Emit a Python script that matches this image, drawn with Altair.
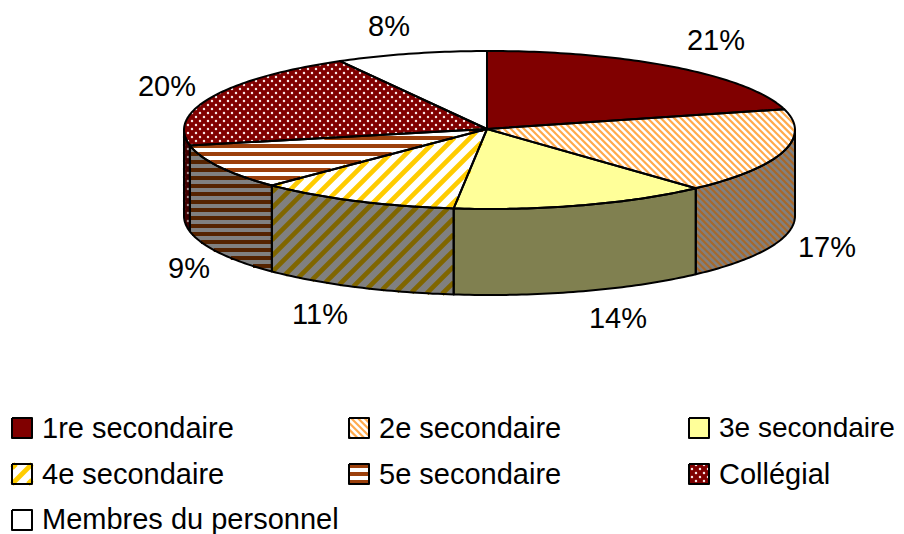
import math
import altair as alt
import pandas as pd

# ---- values
categories = ["1re secondaire", "2e secondaire", "3e secondaire", "4e secondaire",
              "5e secondaire", "Collégial", "Membres du personnel"]
shares = [21, 17, 14, 11, 9, 20, 8]
# small perspective correction of each slice's closing edge, in degrees
edge_nudge = [-0.4, 1.2, 0.0, -0.9, 0.0, 0.0, 0.0]

# ---- styling per category
top_base = ["#800000", "#FFFFFF", "#FFFF99", "#FFFFFF", "#FFFFFF", "#800000", "#FFFFFF"]
top_fg = [None, "#FFAA4D", None, "#FFCC00", "#9C400C", "#F7E4E4", None]
wall_base = ["#400000", "#808080", "#808050", "#808080", "#808080", "#400000", "#808080"]
wall_fg = [None, "#A8682A", None, "#806600", "#552300", "#A89090", None]
patterns = [None, "back", None, "fwd", "horiz", "dots", None]

label_xy = [(716, 41), (827, 248), (618, 319), (320, 315), (189, 269), (167, 87), (389, 27)]
legend_swatch = [(12, 418), (349, 418), (689, 418), (12, 464), (349, 464), (689, 464), (12, 510)]
legend_fs = [29, 29, 28, 29, 29, 29, 29]
legend_text_dy = [1, 1, 1, 1, 1, 1, 0]
legend_h = 20
legend_text_dx = 30

CX, CY, RX, RY, DEPTH = 489.5, 130.0, 305.5, 79.0, 86.0
APEX = (487.0, 129.0)
START = -0.47
FONT = "Liberation Sans"
FS = 29


def ell(a, dy=0.0):
    r = math.radians(a)
    return (CX + RX * math.sin(r), CY - RY * math.cos(r) + dy)


def arc(a0, a1, dy=0.0, step=1.0):
    n = max(2, int(abs(a1 - a0) / step) + 1)
    return [ell(a0 + (a1 - a0) * i / n, dy) for i in range(n + 1)]


def scan(poly, p0, d):
    """intervals of the line p0 + t d that lie inside polygon poly"""
    ts = []
    m = len(poly)
    for i in range(m):
        a, b = poly[i], poly[(i + 1) % m]
        ex, ey = b[0] - a[0], b[1] - a[1]
        den = d[0] * ey - d[1] * ex
        if abs(den) < 1e-9:
            continue
        ax, ay = a[0] - p0[0], a[1] - p0[1]
        t = (ax * ey - ay * ex) / den
        u = (ax * d[1] - ay * d[0]) / den
        if 0 <= u < 1:
            ts.append(t)
    ts.sort()
    return [(ts[i], ts[i + 1]) for i in range(0, len(ts) - 1, 2)]


def inside(poly, x, y):
    c = False
    m = len(poly)
    for i in range(m):
        a, b = poly[i], poly[(i + 1) % m]
        if (a[1] > y) != (b[1] > y) and x < a[0] + (y - a[1]) * (b[0] - a[0]) / (b[1] - a[1]):
            c = not c
    return c


def hatch(poly, pattern, color, segs, dots):
    if pattern is None or color is None:
        return
    xs = [p[0] for p in poly]
    ys = [p[1] for p in poly]
    if pattern == "dots":
        row = int(min(ys) // 4)
        while row * 4 <= max(ys):
            y = row * 4 + 1
            off = 0 if row % 2 == 0 else 4
            col = int(min(xs) // 8) - 1
            while col * 8 + off <= max(xs):
                x = col * 8 + off
                if inside(poly, x, y):
                    dots.append({"x": x, "y": y, "c": color})
                col += 1
            row += 1
        return
    if pattern == "horiz":
        period, width, d = 8.0, 4.0, (1, 0)
        vals = [k * period + 2 for k in range(int(min(ys) // period), int(max(ys) // period) + 2)]
        starts = [(0, v) for v in vals]
    elif pattern == "back":
        period, width, d = 6.7, 2.2, (1, 1)
        lo = min(x - y for x, y in poly)
        hi = max(x - y for x, y in poly)
        starts = [(k * period, 0) for k in range(int(lo // period), int(hi // period) + 2)]
    else:
        period, width, d = 16.0, 4.7, (1, -1)
        lo = min(x + y for x, y in poly)
        hi = max(x + y for x, y in poly)
        starts = [(k * period, 0) for k in range(int(lo // period), int(hi // period) + 2)]
    for p0 in starts:
        for t0, t1 in scan(poly, p0, d):
            segs.append({"x": p0[0] + t0 * d[0], "y": p0[1] + t0 * d[1],
                         "x2": p0[0] + t1 * d[0], "y2": p0[1] + t1 * d[1],
                         "c": color, "w": width})


fills, outlines, segs, dots = [], [], [], []


def add_poly(poly, fill, name):
    ring = poly + [poly[0]]
    for i, (x, y) in enumerate(ring):
        fills.append({"id": name, "i": i, "x": x, "y": y, "c": fill})


def add_outline(pts, name):
    for i, (x, y) in enumerate(pts):
        outlines.append({"id": name, "i": i, "x": x, "y": y})


total = sum(shares)
acc = 0.0
prev_nudge = 0.0
for k, v in enumerate(shares):
    a0 = START + acc / total * 360 + prev_nudge
    acc += v
    a1 = START + acc / total * 360 + edge_nudge[k]
    prev_nudge = edge_nudge[k]
    # side wall: visible only on the front half
    w0, w1 = max(a0, 90), min(a1, 270)
    if w1 > w0:
        wall = arc(w0, w1) + arc(w1, w0, DEPTH)
        add_poly(wall, wall_base[k], f"w{k}")
        hatch(wall, patterns[k], wall_fg[k], segs, dots)
        add_outline(wall + [wall[0]], f"w{k}")
    # top face
    top = [APEX] + arc(a0, a1)
    add_poly(top, top_base[k], f"t{k}")
    hatch(top, patterns[k], top_fg[k], segs, dots)
    add_outline(top + [top[0]], f"t{k}")
    # legend swatch
    sx, sy = legend_swatch[k]
    box = [(sx, sy), (sx + legend_h, sy), (sx + legend_h, sy + legend_h), (sx, sy + legend_h)]
    add_poly(box, top_base[k], f"l{k}")
    hatch(box, patterns[k], top_fg[k], segs, dots)
    add_outline(box + [box[0]], f"l{k}")

labels = pd.DataFrame({"x": [p[0] for p in label_xy], "y": [p[1] for p in label_xy],
                       "t": [f"{v}%" for v in shares]})
legend = pd.DataFrame({"x": [p[0] + legend_text_dx for p in legend_swatch],
                       "y": [p[1] + legend_h / 2 + d for p, d in zip(legend_swatch, legend_text_dy)],
                       "t": categories, "fs": legend_fs})

X = alt.X("x:Q", scale=alt.Scale(domain=[8, 896], nice=False, zero=False), axis=None)
Y = alt.Y("y:Q", scale=alt.Scale(domain=[534, 8], nice=False, zero=False), axis=None)

fill_layer = alt.Chart(pd.DataFrame(fills)).mark_line(strokeWidth=0).encode(
    X, Y, detail="id:N", order="i:Q", fill=alt.Fill("c:N", scale=None, legend=None))
seg_layer = alt.Chart(pd.DataFrame(segs)).mark_rule().encode(
    X, Y, x2="x2:Q", y2="y2:Q",
    color=alt.Color("c:N", scale=None, legend=None),
    strokeWidth=alt.StrokeWidth("w:Q", scale=None, legend=None))
dot_layer = alt.Chart(pd.DataFrame(dots)).mark_circle(size=6, opacity=1).encode(
    X, Y, color=alt.Color("c:N", scale=None, legend=None))
out_layer = alt.Chart(pd.DataFrame(outlines)).mark_line(
    color="black", strokeWidth=2, strokeJoin="round").encode(
    X, Y, detail="id:N", order="i:Q")
lab_layer = alt.Chart(labels).mark_text(
    font=FONT, fontSize=FS, color="black", align="center", baseline="middle").encode(X, Y, text="t:N")
leg_layer = alt.Chart(legend).mark_text(
    font=FONT, color="black", align="left", baseline="middle").encode(
    X, Y, text="t:N", size=alt.Size("fs:Q", scale=None, legend=None))

chart = alt.layer(fill_layer, seg_layer, dot_layer, out_layer, lab_layer, leg_layer).properties(
    width=888, height=526, padding=0, autosize=alt.AutoSizeParams(type="none"),
    background="white"
).configure_view(stroke=None)

chart.save("out.html", embed_options={"renderer": "svg", "actions": False})
